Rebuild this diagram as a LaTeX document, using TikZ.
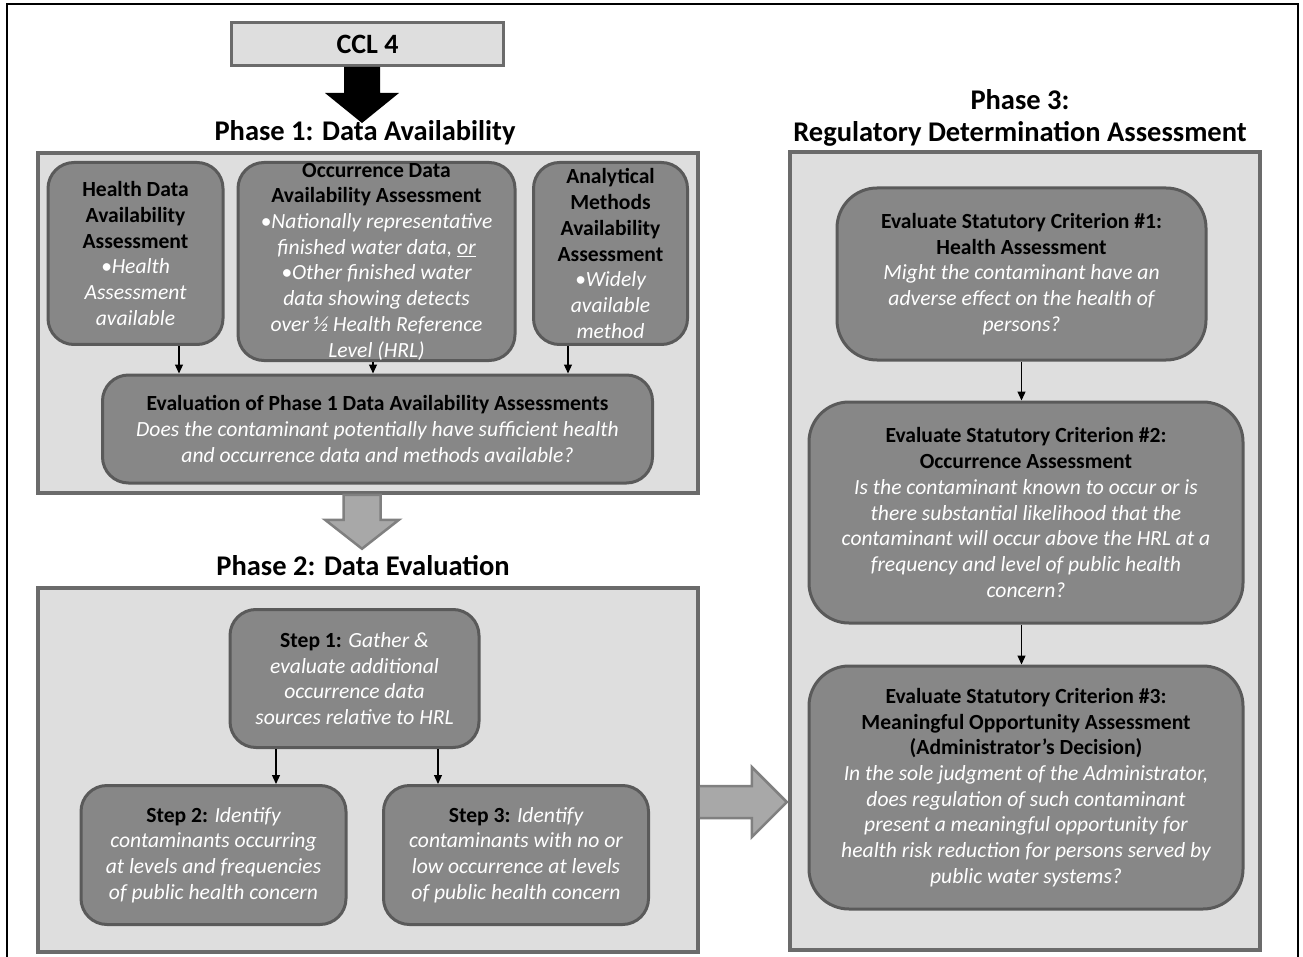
\documentclass[tikz,border=0pt]{standalone}
\usepackage{fontspec}
\setmainfont{Carlito}
\usetikzlibrary{arrows.meta,calc}
\definecolor{panelfill}{HTML}{DEDEDE}
\definecolor{panelline}{HTML}{6B6B6B}
\definecolor{boxfill}{HTML}{878787}
\definecolor{boxline}{HTML}{5A5A5A}
\definecolor{garrowfill}{HTML}{A8A8A8}
\definecolor{garrowline}{HTML}{808080}
\newcommand{\bk}[1]{\textbf{#1}}
\newcommand{\wi}[1]{{\color{white}\itshape #1}}
\begin{document}
\begin{tikzpicture}[x=1pt,y=-1pt,
  panel/.style={draw=panelline, fill=panelfill, line width=3.5pt, inner sep=0pt},
  rbox/.style={draw=boxline, fill=boxfill, line width=3pt, rounded corners=26pt, align=center, inner sep=0pt, font=\fontsize{21.6}{25.7}\selectfont},
  bigbox/.style={rbox, rounded corners=40pt},
  conn/.style={-{Triangle[length=9pt,width=8pt]}, line width=1.2pt, black},
  ttl/.style={font=\fontsize{28.5}{32.5}\selectfont\bfseries, align=center, inner sep=0pt},
  garrow/.style={draw=garrowline, fill=garrowfill, line width=2.5pt, line join=miter}]
\fill[white] (0,0) rectangle (1303,957);
\useasboundingbox (0,0) rectangle (1303,957);
\draw[line width=2.5pt] (7,960) -- (7,4) -- (1298,4) -- (1298,960);

% CCL box and black arrow
\node[panel, line width=3pt, minimum width=272pt, minimum height=43pt, font=\fontsize{28}{32}\selectfont\bfseries] (ccl) at (367.5,44) {CCL 4};
\begin{scope}[shift={(ccl.south)}]
\fill[black] (-23.5,0) -- (12.5,0) -- (12.5,26) -- (31.5,26) -- (-5.5,56) -- (-42.5,26) -- (-23.5,26) -- cycle;
\end{scope}

% Titles
\node[ttl] (t1) at (365,133) {Phase 1: Data Availability};
\node[ttl] (t2) at (363,566) {Phase 2: Data Evaluation};
\node[ttl] (t3) at (1020,118) {Phase 3:\\Regulatory Determination Assessment};

% Panels
\node[panel, minimum width=660pt, minimum height=340pt] (p1) at (368,323) {};
\node[panel, minimum width=660pt, minimum height=364pt] (p2) at (368,770) {};
\node[panel, minimum width=470pt, minimum height=798pt] (p3) at (1025,551) {};

% Phase 1 boxes
\node[rbox, minimum width=175pt, minimum height=182pt] (health) at (135.5,253.5)
 {\bk{Health Data}\\ \bk{Availability}\\ \bk{Assessment}\\ \wi{•Health}\\ \wi{Assessment}\\ \wi{available}};
\node[rbox, minimum width=277pt, minimum height=198pt] (occ) at (376.5,261.5)
 {\bk{Occurrence Data}\\ \bk{Availability Assessment}\\ \wi{•Nationally representative}\\ \wi{finished water data, \underline{or}}\\ \wi{•Other finished water}\\ \wi{data showing detects}\\ \wi{over ½ Health Reference}\\ \wi{Level (HRL)}};
\node[rbox, minimum width=154pt, minimum height=182pt] (ana) at (610.5,253.5)
 {\bk{Analytical}\\ \bk{Methods}\\ \bk{Availability}\\ \bk{Assessment}\\ \wi{•Widely}\\ \wi{available}\\ \wi{method}};
\node[rbox, minimum width=550pt, minimum height=108pt] (eval) at (377.5,429)
 {\bk{Evaluation of Phase 1 Data Availability Assessments}\\ \wi{Does the contaminant potentially have sufficient health}\\ \wi{and occurrence data and methods available?}};

\draw[conn] ([xshift=43.5pt]health.south) -- ([xshift=43.5pt]health.south |- eval.north);
\draw[conn] ([xshift=-3.5pt]occ.south) -- ([xshift=-3.5pt]occ.south |- eval.north);
\draw[conn] ([xshift=-42.5pt]ana.south) -- ([xshift=-42.5pt]ana.south |- eval.north);

% gray down arrow
\begin{scope}[shift={(p1.south)}]
\draw[garrow] (-24.5,0) -- (12.5,0) -- (12.5,25) -- (31,25) -- (-6,54) -- (-43,25) -- (-24.5,25) -- cycle;
\end{scope}

% Phase 2 boxes
\node[rbox, minimum width=249pt, minimum height=138pt] (s1) at (354.5,678.5)
 {\bk{Step 1:} \wi{Gather \&}\\ \wi{evaluate additional}\\ \wi{occurrence data}\\ \wi{sources relative to HRL}};
\node[rbox, minimum width=265pt, minimum height=139pt] (s2) at (213.5,855)
 {\bk{Step 2:} \wi{Identify}\\ \wi{contaminants occurring}\\ \wi{at levels and frequencies}\\ \wi{of public health concern}};
\node[rbox, minimum width=265pt, minimum height=139pt] (s3) at (516,855)
 {\bk{Step 3:} \wi{Identify}\\ \wi{contaminants with no or}\\ \wi{low occurrence at levels}\\ \wi{of public health concern}};
\draw[conn] ([xshift=-78.5pt]s1.south) -- ([xshift=-78.5pt]s1.south |- s2.north);
\draw[conn] ([xshift=83.5pt]s1.south) -- ([xshift=83.5pt]s1.south |- s3.north);

% gray right arrow
\begin{scope}[shift={(p2.east |- 0,802)}]
\draw[garrow] (0,-16) -- (52,-16) -- (52,-35) -- (87,0) -- (52,35) -- (52,16) -- (0,16);
\end{scope}

% Phase 3 boxes
\node[bigbox, minimum width=369pt, minimum height=172pt] (c1) at (1021.5,274)
 {\bk{Evaluate Statutory Criterion \#1:}\\ \bk{Health Assessment}\\ \wi{Might the contaminant have an}\\ \wi{adverse effect on the health of}\\ \wi{persons?}};
\node[bigbox, minimum width=434pt, minimum height=221pt] (c2) at (1026,512.5)
 {\bk{Evaluate Statutory Criterion \#2:}\\ \bk{Occurrence Assessment}\\ \wi{Is the contaminant known to occur or is}\\ \wi{there substantial likelihood that the}\\ \wi{contaminant will occur above the HRL at a}\\ \wi{frequency and level of public health}\\ \wi{concern?}};
\node[bigbox, minimum width=434pt, minimum height=243pt] (c3) at (1026,787.5)
 {\bk{Evaluate Statutory Criterion \#3:}\\ \bk{Meaningful Opportunity Assessment}\\ \bk{(Administrator’s Decision)}\\ \wi{In the sole judgment of the Administrator,}\\ \wi{does regulation of such contaminant}\\ \wi{present a meaningful opportunity for}\\ \wi{health risk reduction for persons served by}\\ \wi{public water systems?}};
\draw[conn] (c1.south) -- (c1.south |- c2.north);
\draw[conn] (c1.south |- c2.south) -- (c1.south |- c3.north);
\end{tikzpicture}
\end{document}
